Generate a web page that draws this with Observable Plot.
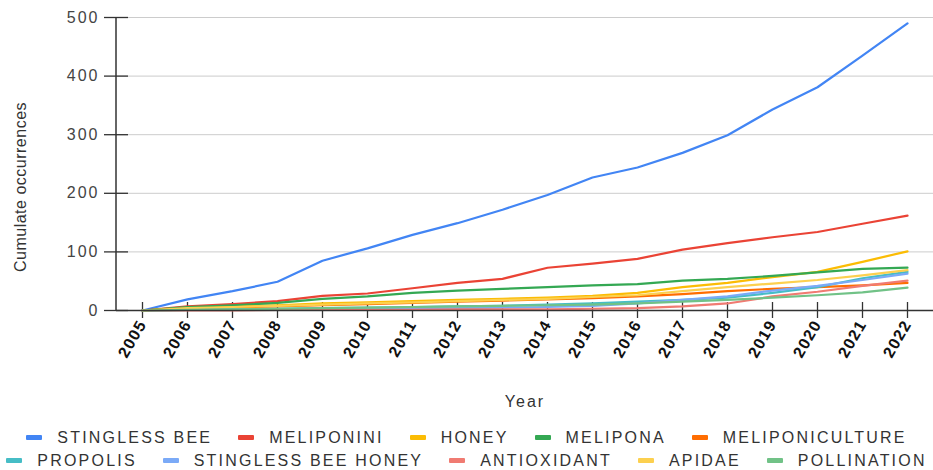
<!DOCTYPE html>
<html>
<head>
<meta charset="utf-8">
<script src="https://cdn.jsdelivr.net/npm/d3@7"></script>
<script src="https://cdn.jsdelivr.net/npm/@observablehq/plot@0.6"></script>
<style>
  html, body { margin: 0; padding: 0; background: #fff; }
  body { width: 933px; height: 470px; overflow: hidden; font-family: "Liberation Sans", Arial, sans-serif; }
  #legend { padding-top: 6px; }
  .row { display: flex; justify-content: center; align-items: center; height: 23px; gap: 26px; }
  .item { display: flex; align-items: center; font-size: 16px; letter-spacing: 2.2px; color: #333; white-space: nowrap; }
  .sw { width: 16px; height: 5px; margin-right: 15px; border-radius: 1px; }
</style>
</head>
<body>
<div id="chart"></div>
<div id="legend"></div>
<script>
const years = [2005,2006,2007,2008,2009,2010,2011,2012,2013,2014,2015,2016,2017,2018,2019,2020,2021,2022];
const seriesNames = ["STINGLESS BEE","MELIPONINI","HONEY","MELIPONA","MELIPONICULTURE","PROPOLIS","STINGLESS BEE HONEY","ANTIOXIDANT","APIDAE","POLLINATION"];
const seriesColors = ["#4285F4","#EA4335","#FBBC04","#34A853","#FF6D01","#46BDC6","#7BAAF7","#F07B72","#FCD04F","#71C287"];
const yTicks = [0,100,200,300,400,500];

const stinglessBee      = [0,19,33,49,85,106,129,149,172,197,227,244,269,299,343,381,435,490];
const meliponini        = [0,7,11,16,25,29,38,47,54,73,80,88,104,115,125,134,148,162];
const honey             = [0,5,7,9,12,14,16,18,20,22,25,30,40,47,57,66,83,101];
const melipona          = [0,6,9,13,20,24,30,34,37,40,43,45,51,54,59,65,71,73];
const meliponiculture   = [0,3,5,7,9,11,13,15,17,19,21,24,28,33,37,40,43,47];
const propolis          = [0,1,2,3,4,5,6,7,8,10,12,15,18,22,30,40,55,66];
const stinglessBeeHoney = [0,1,1,2,2,3,3,4,5,6,8,12,18,24,34,42,52,63];
const antioxidant       = [0,0,0,1,1,1,1,2,2,2,3,4,7,12,24,32,42,51];
const apidae            = [0,4,6,8,10,12,14,16,18,20,23,26,33,40,46,52,60,69];
const pollination       = [0,1,2,3,4,5,6,7,8,9,10,12,15,18,22,26,31,39];

const seriesValues = [stinglessBee, meliponini, honey, melipona, meliponiculture, propolis, stinglessBeeHoney, antioxidant, apidae, pollination];

const table = seriesNames.flatMap((name, i) =>
  seriesValues[i].map((v, j) => ({year: years[j], name, value: v})));

const fmt = d => String(d);

const chart = Plot.plot({
  width: 933,
  height: 420,
  marginLeft: 116,
  marginRight: 0,
  marginTop: 17,
  marginBottom: 110,
  style: {fontFamily: "Liberation Sans, Arial, sans-serif", background: "#fff"},
  x: {type: "point", domain: years, padding: 0.5},
  y: {domain: [0, 500]},
  color: {domain: seriesNames, range: seriesColors},
  marks: [
    Plot.gridY(yTicks.filter(d => d > 0), {stroke: "#cccccc", strokeOpacity: 1, strokeWidth: 1}),
    Plot.axisY(yTicks, {tickSize: 0, tickPadding: 17, fontSize: 16, color: "#444", tickFormat: fmt,
      label: "Cumulate occurrences", labelAnchor: "center", labelOffset: 102, labelArrow: "none"}),
    Plot.axisY(yTicks, {tickSize: 24, dx: 12, tickFormat: () => "", label: null, stroke: "#333", strokeWidth: 1.3}),
    Plot.axisX(years, {tickSize: 0, tickPadding: 11, tickRotate: -60, fontSize: 16, fontWeight: "bold", color: "#111",
      tickFormat: fmt, label: null}),
    Plot.axisX(years, {tickSize: 16, dy: -8, tickFormat: () => "", fontSize: 16, stroke: "#333", strokeWidth: 1.3,
      label: "Year", labelAnchor: "center", labelOffset: 96, labelArrow: "none"}),
    Plot.line(table, {x: "year", y: "value", z: "name", stroke: "name", strokeWidth: 2.2, curve: "linear"}),
    Plot.ruleY([0], {stroke: "#333", strokeWidth: 1.5})
  ]
});

document.getElementById("chart").appendChild(chart);

const svg = d3.select(chart);
// y axis line
svg.append("line")
  .attr("x1", 116).attr("x2", 116).attr("y1", 17).attr("y2", 310)
  .attr("stroke", "#333").attr("stroke-width", 1.5);

svg.selectAll('g[aria-label="y-axis tick label"] text').style("letter-spacing", "2px");
svg.selectAll('g[aria-label="x-axis tick label"] text').style("letter-spacing", "1.2px");
svg.selectAll('g[aria-label="x-axis label"] text').style("letter-spacing", "2px").attr("fill", "#333").attr("font-weight", "normal");
svg.selectAll('g[aria-label="y-axis label"] text').each(function() {
  const el = d3.select(this);
  el.attr("transform", (el.attr("transform") || "") + " translate(-23,0)")
    .attr("fill", "#333").style("letter-spacing", "0.5px");
});

// legend
const legend = document.getElementById("legend");
const rows = [seriesNames.slice(0, 5), seriesNames.slice(5)];
rows.forEach(r => {
  const row = document.createElement("div");
  row.className = "row";
  r.forEach(name => {
    const it = document.createElement("div");
    it.className = "item";
    const sw = document.createElement("span");
    sw.className = "sw";
    sw.style.background = seriesColors[seriesNames.indexOf(name)];
    const tx = document.createElement("span");
    tx.textContent = name;
    it.appendChild(sw);
    it.appendChild(tx);
    row.appendChild(it);
  });
  legend.appendChild(row);
});
</script>
</body>
</html>
